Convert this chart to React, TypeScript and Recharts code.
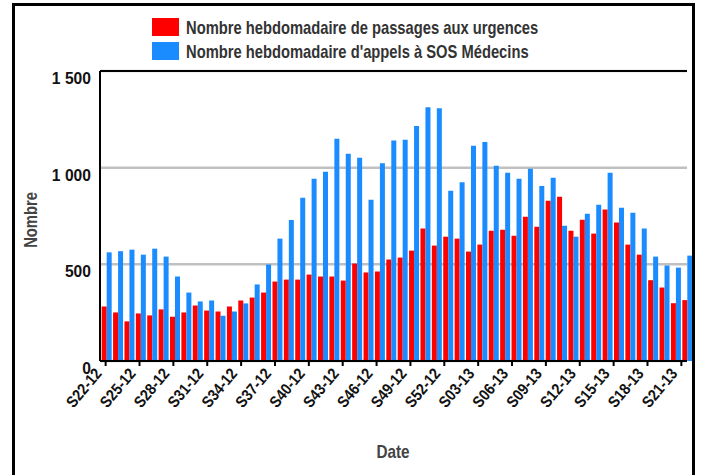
import React from 'react';
import { BarChart, Bar, XAxis, YAxis, CartesianGrid, ReferenceLine, Label } from 'recharts';

const weeks = [
  'S22-12', 'S23-12', 'S24-12', 'S25-12', 'S26-12', 'S27-12', 'S28-12', 'S29-12', 'S30-12', 'S31-12',
  'S32-12', 'S33-12', 'S34-12', 'S35-12', 'S36-12', 'S37-12', 'S38-12', 'S39-12', 'S40-12', 'S41-12',
  'S42-12', 'S43-12', 'S44-12', 'S45-12', 'S46-12', 'S47-12', 'S48-12', 'S49-12', 'S50-12', 'S51-12',
  'S52-12', 'S01-13', 'S02-13', 'S03-13', 'S04-13', 'S05-13', 'S06-13', 'S07-13', 'S08-13', 'S09-13',
  'S10-13', 'S11-13', 'S12-13', 'S13-13', 'S14-13', 'S15-13', 'S16-13', 'S17-13', 'S18-13', 'S19-13',
  'S20-13', 'S21-13',
];

const urgences = [
  282, 251, 205, 246, 236, 267, 229, 251, 287, 261,
  256, 282, 313, 328, 354, 411, 421, 421, 447, 437,
  437, 416, 504, 458, 463, 525, 535, 571, 685, 597,
  643, 633, 566, 602, 674, 679, 648, 746, 695, 829,
  850, 674, 731, 659, 783, 716, 602, 550, 418, 380,
  299, 315,
];

const sosMedecins = [
  562, 568, 576, 550, 581, 540, 437, 354, 308, 313,
  234, 256, 298, 396, 499, 633, 729, 845, 943, 979,
  1149, 1072, 1051, 834, 1023, 1140, 1144, 1216, 1312, 1307,
  881, 925, 1113, 1133, 1010, 974, 943, 994, 905, 948,
  700, 643, 762, 808, 974, 793, 767, 685, 540, 494,
  483, 545,
];

const yTicks = [0, 500, 1000, 1500];
const seriesNames = [
  'Nombre hebdomadaire de passages aux urgences',
  "Nombre hebdomadaire d'appels à SOS Médecins",
];
const seriesColors = ['#ff0000', '#1a8cff'];
const xTitle = 'Date';
const yTitle = 'Nombre';

const data = weeks.map((w, i) => ({ week: w, urgences: urgences[i], sos: sosMedecins[i] }));

const FONT = "'Liberation Sans', Arial, Helvetica, sans-serif";

const fmt = (v: number) =>
  v >= 1000 ? `${Math.floor(v / 1000)} ${String(v % 1000).padStart(3, '0')}` : String(v);

const YTick = (props: any) => {
  const { y, payload } = props;
  return (
    <text
      transform={`translate(91, ${y + 13}) scale(0.92, 1)`}
      textAnchor="end"
      fontFamily={FONT}
      fontWeight="bold"
      fontSize={17}
      fill="#111"
    >
      {fmt(payload.value)}
    </text>
  );
};

const XTick = (props: any) => {
  const { x, y, payload } = props;
  return (
    <text
      transform={`translate(${x - 3}, ${y + 6}) rotate(-50) scale(0.88, 1)`}
      textAnchor="end"
      fontFamily={FONT}
      fontWeight="bold"
      fontSize={16}
      fill="#111"
    >
      {payload.value}
    </text>
  );
};

export default function App() {
  return (
    <div style={{ position: 'absolute', left: 0, top: 0, width: 704, height: 475, overflow: 'hidden', background: '#fff' }}>
      <BarChart
        width={704}
        height={475}
        data={data}
        margin={{ top: 71, right: 17, left: 0, bottom: 0 }}
        barCategoryGap="6%"
        barGap={0}
      >
        <CartesianGrid vertical={false} stroke="#c0c0c0" strokeWidth={2.5} />
        <XAxis
          dataKey="week"
          interval={2}
          height={114}
          tick={<XTick />}
          tickSize={5}
          tickLine={{ stroke: '#000', strokeWidth: 2 }}
          axisLine={{ stroke: '#000', strokeWidth: 2 }}
        >
          <Label
            content={() => (
              <text
                transform="translate(393, 458) scale(0.85, 1)"
                textAnchor="middle"
                fontFamily={FONT}
                fontWeight="bold"
                fontSize={18}
                fill="#444"
              >
                {xTitle}
              </text>
            )}
          />
        </XAxis>
        <XAxis xAxisId="bar" dataKey="week" hide padding={{ left: 1, right: -6 }} />
        <YAxis
          width={100}
          domain={[0, 1500]}
          ticks={yTicks}
          tick={<YTick />}
          tickLine={false}
          axisLine={{ stroke: '#000', strokeWidth: 2 }}
          interval={0}
        >
          <Label
            content={() => (
              <text
                transform="translate(37, 220) rotate(-90) scale(0.82, 1)"
                textAnchor="middle"
                fontFamily={FONT}
                fontWeight="bold"
                fontSize={18}
                fill="#444"
              >
                {yTitle}
              </text>
            )}
          />
        </YAxis>
        <ReferenceLine y={1500} stroke="#000" strokeWidth={2} />
        <Bar xAxisId="bar" dataKey="urgences" name={seriesNames[0]} fill={seriesColors[0]} isAnimationActive={false} />
        <Bar xAxisId="bar" dataKey="sos" name={seriesNames[1]} fill={seriesColors[1]} isAnimationActive={false} />
      </BarChart>
      <svg width={704} height={475} style={{ position: 'absolute', left: 0, top: 0, pointerEvents: 'none' }}>
        {seriesNames.map((n, i) => (
          <g key={n}>
            <rect x={152} y={18 + i * 24} width={27} height={18} fill={seriesColors[i]} />
            <text
              transform={`translate(186, ${34 + i * 24}) scale(0.82, 1)`}
              fontFamily={FONT}
              fontWeight="bold"
              fontSize={18}
              fill="#333"
            >
              {n}
            </text>
          </g>
        ))}
      </svg>
      <div
        style={{
          position: 'absolute',
          left: 12,
          top: 3,
          width: 683,
          height: 490,
          border: '3px solid #000',
          boxSizing: 'border-box',
          pointerEvents: 'none',
        }}
      />
    </div>
  );
}
